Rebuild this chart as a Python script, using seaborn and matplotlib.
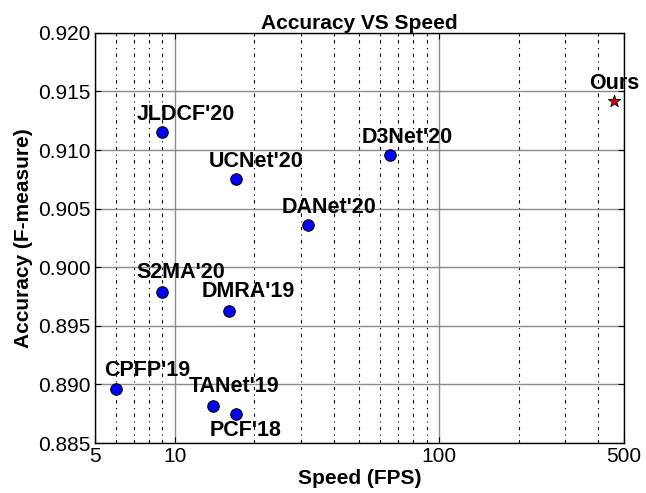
import numpy as np
import pandas as pd
import matplotlib
matplotlib.use('Agg')
import matplotlib.pyplot as plt
import matplotlib.ticker as mticker
import seaborn as sns

# 数据
methods = ["CPFP'19", "TANet'19", "PCF'18", "S2MA'20", "DMRA'19",
           "JLDCF'20", "UCNet'20", "DANet'20", "D3Net'20"]
fps = [6, 14, 17, 9, 16, 9, 17, 32, 65]
fmeasure = [0.8896, 0.8882, 0.8875, 0.8979, 0.8963,
            0.9115, 0.9075, 0.9036, 0.9096]
ours_name = "Ours"
ours_fps = [460]
ours_fmeasure = [0.9142]

x_major = [5, 10, 100, 500]
y_ticks = [0.885, 0.890, 0.895, 0.900, 0.905, 0.910, 0.915, 0.920]

# 标签偏移(像素)
label_offsets = {
    "CPFP'19": (31, 19), "TANet'19": (21, 19), "PCF'18": (10, -17),
    "S2MA'20": (18, 19), "DMRA'19": (20, 19), "JLDCF'20": (23, 18),
    "UCNet'20": (21, 18), "DANet'20": (21, 18), "D3Net'20": (18, 17),
    "Ours": (0, 17),
}

sns.set_style("ticks")
plt.rcParams['font.family'] = ['Liberation Sans', 'DejaVu Sans']
plt.rcParams['text.color'] = 'black'
plt.rcParams['axes.labelcolor'] = 'black'
plt.rcParams['xtick.color'] = 'black'
plt.rcParams['ytick.color'] = 'black'

df = pd.DataFrame({"method": methods, "fps": fps, "f": fmeasure})
df_ours = pd.DataFrame({"method": [ours_name], "fps": ours_fps, "f": ours_fmeasure})

fig = plt.figure(figsize=(6.46, 4.93), dpi=100)
ax = fig.add_axes([0.147, 0.1014, 0.819, 0.832])

sns.scatterplot(data=df, x="fps", y="f", ax=ax, s=68, color="#0000ff",
                edgecolor="black", linewidth=0.8, zorder=5, legend=False)
sns.scatterplot(data=df_ours, x="fps", y="f", ax=ax, s=85, marker="*",
                color="#e00000", edgecolor="black", linewidth=0.6, zorder=5,
                legend=False)

ax.set_xscale("log")
ax.set_xlim(5, 500)
ax.set_ylim(0.885, 0.920)

ax.xaxis.set_major_locator(mticker.FixedLocator(x_major))
ax.xaxis.set_major_formatter(mticker.FixedFormatter([str(v) for v in x_major]))
ax.xaxis.set_minor_locator(mticker.LogLocator(base=10, subs=np.arange(2, 10)))
ax.xaxis.set_minor_formatter(mticker.NullFormatter())
ax.set_yticks(y_ticks)
ax.yaxis.set_major_formatter(mticker.FormatStrFormatter('%.3f'))

ax.grid(True, which="major", color="#8c8c8c", linewidth=1.0, linestyle="-")
ax.grid(True, which="minor", axis="x", color="black", linewidth=0.8,
        linestyle=(0, (3, 4, 1, 4)))
ax.set_axisbelow(True)

ax.tick_params(which="both", direction="in", top=True, right=True,
               labelsize=15, colors="black", pad=3)
ax.tick_params(which="major", length=4)
ax.tick_params(which="minor", length=2.5)
for sp in ax.spines.values():
    sp.set_color("black")
    sp.set_linewidth(1.0)

for name, x, y in zip(df["method"], df["fps"], df["f"]):
    dx, dy = label_offsets[name]
    ax.annotate(name, (x, y), xytext=(dx, dy), textcoords="offset pixels",
                ha="center", va="center", fontsize=15.5, fontweight="bold",
                color="black", zorder=6)
dx, dy = label_offsets[ours_name]
ax.annotate(ours_name, (ours_fps[0], ours_fmeasure[0]), xytext=(dx, dy),
            textcoords="offset pixels", ha="center", va="center",
            fontsize=15.5, fontweight="bold", color="black", zorder=6)

ax.set_title("Accuracy VS Speed", fontsize=15, fontweight="bold", pad=3,
             color="black")
ax.set_xlabel("Speed (FPS)", fontsize=15, fontweight="bold", labelpad=2)
ax.set_ylabel("Accuracy (F-measure)", fontsize=15, fontweight="bold", labelpad=4)

fig.savefig("out.png", dpi=100)
